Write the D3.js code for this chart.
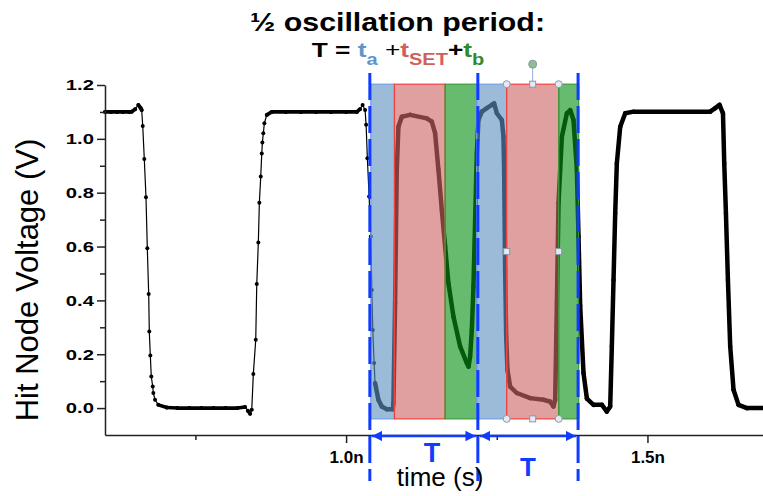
<!DOCTYPE html>
<head>
<meta charset="utf-8">
<style>
  body { margin: 0; background: white; }
  svg { display: block; font-family: "Liberation Sans", Arial, sans-serif; }
  .tick text { font-weight: bold; fill: black; }
  .axis path, .axis line { stroke: #222; stroke-width: 1.5px; }
</style>
</head>
<body>
<svg width="763" height="496"></svg>
<script src="https://cdnjs.cloudflare.com/ajax/libs/d3/7.8.5/d3.min.js"></script>
<script>

// transient: time (ns) and hit node voltage (V)
var timeNs = [
  0.600, 0.610, 0.620, 0.630, 0.640, 0.6443, 0.6500, 0.6553, 0.6590, 0.6609,
  0.6626, 0.6652, 0.6680, 0.6702, 0.6725, 0.6735, 0.6752, 0.6768, 0.6792, 0.6802,
  0.6830, 0.6885, 0.7024, 0.720, 0.740, 0.760, 0.780, 0.800, 0.820, 0.8324,
  0.8370, 0.8407, 0.8435, 0.8461, 0.8501, 0.8518, 0.8544, 0.8561, 0.8584, 0.8601,
  0.8611, 0.8627, 0.8644, 0.8684, 0.8767, 0.900, 0.925, 0.950, 0.975, 1.000,
  1.0178, 1.0230, 1.0274, 1.0315, 1.0332, 1.0353, 1.0382, 1.0410, 1.0427, 1.0443,
  1.0465, 1.0481, 1.0536, 1.0592, 1.0676, 1.0775, 1.0785, 1.0813, 1.0841, 1.0868,
  1.0924, 1.1062, 1.1339, 1.1422, 1.1477, 1.1532, 1.1588, 1.1643, 1.1698, 1.1781,
  1.1892, 1.2003, 1.2031, 1.2058, 1.2086, 1.2113, 1.2141, 1.2169, 1.2196, 1.2252,
  1.2335, 1.2418, 1.2456, 1.2501, 1.2584, 1.2611, 1.2622, 1.2639, 1.2656, 1.2677,
  1.2722, 1.2832, 1.3054, 1.3275, 1.3386, 1.3441, 1.3469, 1.3497, 1.3524, 1.3580,
  1.3663, 1.3718, 1.3773, 1.3829, 1.3856, 1.3884, 1.3939, 1.3995, 1.4105, 1.4244,
  1.4326, 1.4382, 1.4409, 1.4437, 1.4465, 1.4492, 1.4548, 1.4631, 1.4769, 1.6041,
  1.6124, 1.6196, 1.6253, 1.6274, 1.6302, 1.6335, 1.6373, 1.6428, 1.6511, 1.6650,
  1.6950
];
var voltage = [
  1.100, 1.100, 1.100, 1.100, 1.100, 1.101, 1.110, 1.126, 1.115, 1.107,
  1.048, 0.925, 0.783, 0.594, 0.424, 0.284, 0.195, 0.117, 0.080, 0.056,
  0.031, 0.012, 0.002, 0.000, 0.000, 0.000, 0.000, 0.000, 0.000, 0.004,
  -0.010, -0.021, -0.006, 0.127, 0.254, 0.461, 0.615, 0.763, 0.860, 0.946,
  0.986, 1.021, 1.058, 1.089, 1.100, 1.100, 1.100, 1.100, 1.100, 1.100,
  1.100, 1.110, 1.126, 1.107, 1.052, 0.928, 0.786, 0.637, 0.439, 0.290,
  0.167, 0.093, 0.031, 0.006, -0.004, -0.004, 0.019, 0.390, 0.885, 1.045,
  1.082, 1.089, 1.076, 1.064, 1.021, 0.885, 0.736, 0.600, 0.464, 0.340,
  0.229, 0.167, 0.154, 0.192, 0.290, 0.451, 0.699, 0.946, 1.070, 1.101,
  1.114, 1.126, 1.132, 1.095, 1.070, 1.008, 0.885, 0.513, 0.266, 0.142,
  0.080, 0.056, 0.037, 0.031, 0.024, 0.006, 0.031, 0.390, 0.761, 1.008,
  1.095, 1.107, 1.070, 0.885, 0.637, 0.380, 0.130, 0.035, 0.012, 0.012,
  -0.013, 0.006, 0.229, 0.476, 0.724, 0.909, 1.045, 1.095, 1.101, 1.101,
  1.114, 1.126, 1.095, 0.909, 0.724, 0.476, 0.229, 0.068, 0.012, 0.000,
  0.000
];
// after this time the simulator points are so dense they read as a thick line
var denseFrom = 1.048;

// the two half periods: t_a, t_SET, t_b (ns boundaries)
var phaseNames = ["ta", "tSET", "tb", "ta", "tSET", "tb"];
var phaseStart = [1.041, 1.0802, 1.1643, 1.2166, 1.2664, 1.3527];
var phaseEnd   = [1.0802, 1.1643, 1.2166, 1.2664, 1.3527, 1.3859];
var boxLow = -0.04, boxHigh = 1.203;
var periodMarks = [1.0394, 1.2186, 1.3849];

var yMajor = [0.0, 0.2, 0.4, 0.6, 0.8, 1.0, 1.2];
var yMinor = [0.1, 0.3, 0.5, 0.7, 0.9, 1.1];
var xMajor = [1.0, 1.5];
var xMinor = [0.75, 1.25];

var fills = { ta: "rgb(94,145,194)", tSET: "rgb(205,102,102)", tb: "rgb(8,145,21)" };
var edges = { ta: "#6fa0e6", tSET: "#f04040", tb: "#3a9a3a" };

var svg = d3.select("svg");

var x = d3.scaleLinear().domain([0.6, 1.7]).range([105, 768]);
var y = d3.scaleLinear().domain([-0.1, 1.2]).range([435, 85]);

var pts = timeNs.map(function(t, i) { return { t: t, v: voltage[i] }; });
var segs = [];
for (var i = 1; i < pts.length; i++) segs.push([pts[i - 1], pts[i]]);

// trace
svg.append("g").selectAll("line")
  .data(segs)
  .enter().append("line")
  .attr("x1", d => x(d[0].t)).attr("y1", d => y(d[0].v))
  .attr("x2", d => x(d[1].t)).attr("y2", d => y(d[1].v))
  .attr("stroke", "black")
  .attr("stroke-linecap", "round")
  .attr("stroke-width", function(d) {
    if (d[0].t >= denseFrom) return 4.5;
    if (Math.abs(d[1].v - d[0].v) < 0.012) return 3.6;
    return 1.2;
  });

svg.append("g").selectAll("circle")
  .data(pts.filter(d => d.t < denseFrom))
  .enter().append("circle")
  .attr("cx", d => x(d.t)).attr("cy", d => y(d.v))
  .attr("r", 2)
  .attr("fill", "black");

// phase boxes over the trace
svg.append("g").selectAll("rect")
  .data(phaseNames)
  .enter().append("rect")
  .attr("x", (d, i) => x(phaseStart[i]))
  .attr("width", (d, i) => x(phaseEnd[i]) - x(phaseStart[i]))
  .attr("y", y(boxHigh))
  .attr("height", y(boxLow) - y(boxHigh))
  .attr("fill", d => fills[d])
  .attr("fill-opacity", 0.62)
  .attr("stroke", d => edges[d])
  .attr("stroke-width", 1.2);

// axes
svg.append("g").attr("class", "axis")
  .attr("transform", "translate(105,0)")
  .call(d3.axisLeft(y).tickValues(yMajor).tickSize(8).tickSizeOuter(0)
    .tickFormat(d3.format(".1f")))
  .selectAll("text")
  .attr("x", 0)
  .attr("font-size", 15)
  .attr("transform", "translate(-11,0) scale(1.35,1)");
svg.append("g").attr("class", "axis")
  .attr("transform", "translate(105,0)")
  .call(d3.axisLeft(y).tickValues(yMinor).tickSize(5).tickSizeOuter(0).tickFormat(""))
  .select(".domain").remove();

svg.append("g").attr("class", "axis")
  .attr("transform", "translate(0,435)")
  .call(d3.axisBottom(x).tickValues(xMajor).tickSize(8).tickSizeOuter(0).tickPadding(8)
    .tickFormat(d => d.toFixed(1) + "n"))
  .selectAll("text").attr("font-size", 17);
svg.append("g").attr("class", "axis")
  .attr("transform", "translate(0,435)")
  .call(d3.axisBottom(x).tickValues(xMinor).tickSize(5).tickSizeOuter(0).tickFormat(""))
  .select(".domain").remove();

// selection handles left on the second t_SET box
var sx0 = x(phaseStart[4]), sx1 = x(phaseEnd[4]), sxm = (sx0 + sx1) / 2;
var sy0 = y(boxHigh), sy1 = y(boxLow), sym = (sy0 + sy1) / 2;
var hg = svg.append("g");
hg.append("line").attr("x1", sxm).attr("x2", sxm).attr("y1", sy0).attr("y2", sy0 - 18)
  .attr("stroke", "#8fb0e0").attr("stroke-width", 1);
hg.append("circle").attr("cx", sxm).attr("cy", sy0 - 20).attr("r", 4)
  .attr("fill", "#8fbf8f").attr("stroke", "#8a98a8");
[[sx0, sy0], [sx1, sy0], [sx0, sy1], [sx1, sy1]].forEach(function(p) {
  hg.append("circle").attr("cx", p[0]).attr("cy", p[1]).attr("r", 3.5)
    .attr("fill", "#e4eaf2").attr("stroke", "#8a98a8");
});
[[sxm, sy0], [sxm, sy1], [sx0, sym], [sx1, sym]].forEach(function(p) {
  hg.append("rect").attr("x", p[0] - 3).attr("y", p[1] - 3).attr("width", 6).attr("height", 6)
    .attr("fill", "#e4eaf2").attr("stroke", "#8a98a8");
});

// period markers
var blue = "#0f3cff";
svg.append("g").selectAll("line")
  .data(periodMarks)
  .enter().append("line")
  .attr("x1", d => x(d)).attr("x2", d => x(d))
  .attr("y1", 73).attr("y2", 481)
  .attr("stroke", blue).attr("stroke-width", 3)
  .attr("stroke-dasharray", "27,6");

var defs = svg.append("defs");
defs.append("marker").attr("id", "ah")
  .attr("viewBox", "0 0 10 10").attr("refX", 10).attr("refY", 5)
  .attr("markerWidth", 4).attr("markerHeight", 4).attr("orient", "auto-start-reverse")
  .attr("markerUnits", "strokeWidth")
  .append("path").attr("d", "M0,0 L10,5 L0,10 z").attr("fill", blue);

var spans = [[periodMarks[0], periodMarks[1]], [periodMarks[1], periodMarks[2]]];
svg.append("g").selectAll("line")
  .data(spans)
  .enter().append("line")
  .attr("x1", d => x(d[0]) + 2).attr("x2", d => x(d[1]) - 2)
  .attr("y1", 436).attr("y2", 436)
  .attr("stroke", blue).attr("stroke-width", 2.6)
  .attr("marker-start", "url(#ah)").attr("marker-end", "url(#ah)");

svg.append("g").selectAll("text")
  .data(spans)
  .enter().append("text")
  .attr("x", (d, i) => i === 0 ? 432 : 528)
  .attr("y", (d, i) => i === 0 ? 462 : 476)
  .attr("text-anchor", "middle")
  .attr("font-weight", "bold")
  .attr("font-size", (d, i) => i === 0 ? 27 : 26)
  .attr("fill", blue)
  .text("T");

// axis titles
svg.append("text")
  .attr("transform", "translate(38,280) rotate(-90)")
  .attr("text-anchor", "middle")
  .attr("font-size", 31)
  .text("Hit Node Voltage (V)");

svg.append("text")
  .attr("x", 440).attr("y", 486)
  .attr("text-anchor", "middle")
  .attr("font-size", 26)
  .text("time (s)");

// title
svg.append("text")
  .attr("x", 250).attr("y", 31)
  .attr("font-size", 26).attr("font-weight", "bold")
  .attr("textLength", 295).attr("lengthAdjust", "spacingAndGlyphs")
  .text("\u00bd oscillation period:");

var eq = svg.append("g").attr("transform", "translate(398,57) scale(1.25,1)")
  .append("text")
  .attr("text-anchor", "middle")
  .attr("font-size", 21).attr("font-weight", "bold");
eq.append("tspan").text("T = ");
eq.append("tspan").attr("fill", "#5f95c8").text("t");
eq.append("tspan").attr("fill", "#5f95c8").attr("font-size", 16).attr("dy", 8).text("a");
eq.append("tspan").attr("dy", -8).attr("font-weight", "normal").text(" +");
eq.append("tspan").attr("fill", "#d0605c").text("t");
eq.append("tspan").attr("fill", "#d0605c").attr("font-size", 16).attr("dy", 8).text("SET");
eq.append("tspan").attr("dy", -8).text("+");
eq.append("tspan").attr("fill", "#2e8b2e").text("t");
eq.append("tspan").attr("fill", "#2e8b2e").attr("font-size", 16).attr("dy", 8).text("b");

</script>
</body>
